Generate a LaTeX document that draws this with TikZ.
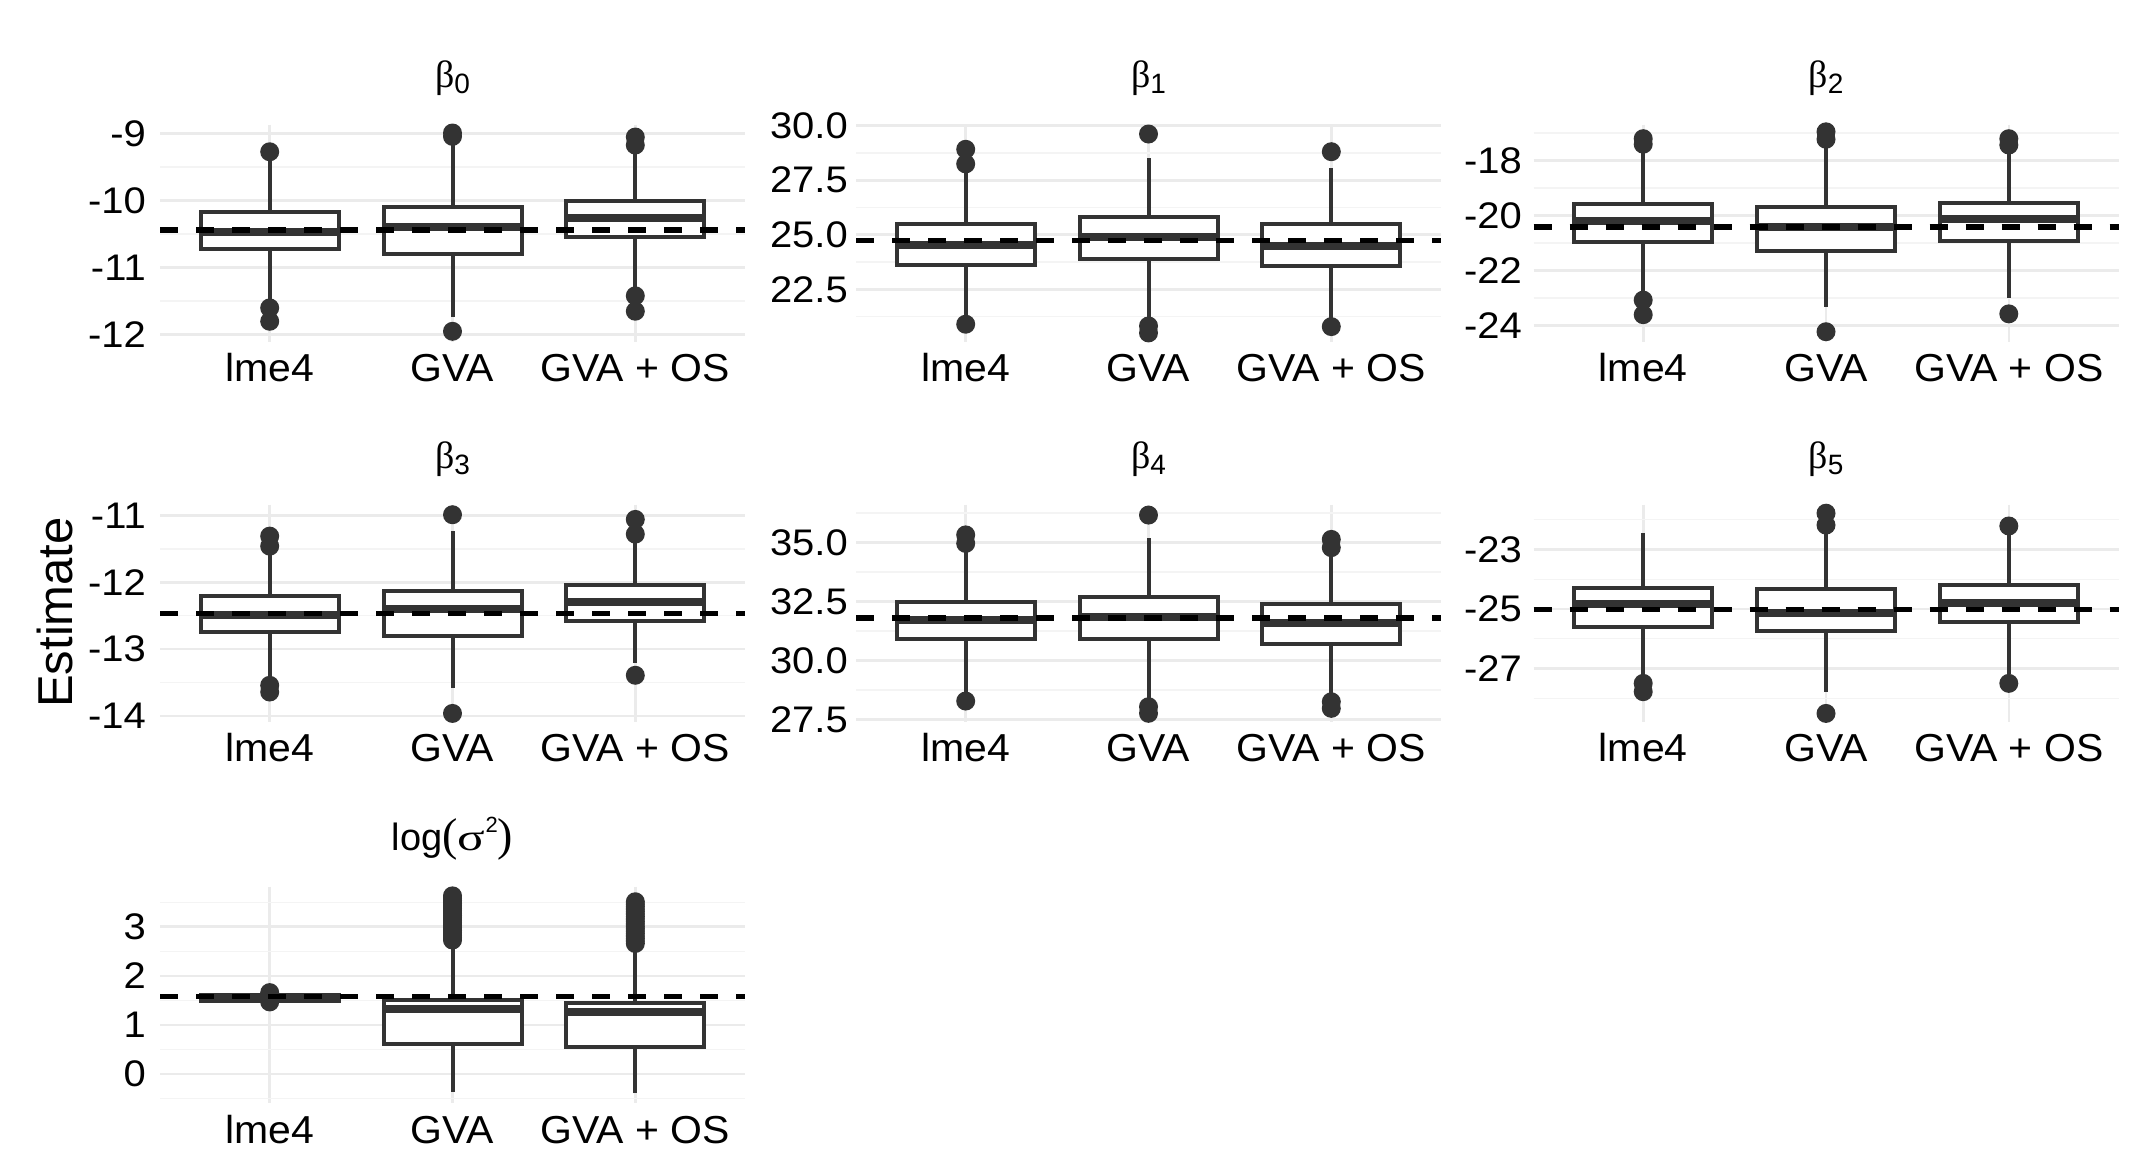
\documentclass[tikz,border=0pt]{standalone}
\usepackage{fontspec}
\setmainfont{Liberation Sans}
\newfontfamily\grk{Liberation Serif}
\definecolor{gridc}{HTML}{EBEBEB}
\definecolor{gridm}{HTML}{F4F4F4}
\definecolor{bcol}{HTML}{333333}
\newcommand\bxp[6]{%
  \draw[whisk] (#1,#2) -- (#1,#3);
  \draw[whisk] (#1,#5) -- (#1,#6);
  \draw[boxs] ({#1-69},#3) rectangle ({#1+69},#5);
  \draw[medl] ({#1-69},#4) -- ({#1+69},#4);
}
\newcommand\outs[2]{\foreach \v in {#2}{\fill[outp] (#1,\v) circle[radius=9.5pt];}}
\newcommand\btitle[1]{{\grk β}\raisebox{-6pt}{\fontsize{28}{28}\selectfont #1}}
\begin{document}
\begin{tikzpicture}[x=1pt,y=1pt,
  gmaj/.style={draw=gridc, line width=2.6pt},
  gmin/.style={draw=gridm, line width=1.4pt},
  whisk/.style={draw=bcol, line width=4pt},
  boxs/.style={draw=bcol, fill=white, line width=4pt},
  medl/.style={draw=bcol, line width=8pt},
  outp/.style={fill=bcol},
  truth/.style={draw=black, line width=5.5pt, dash pattern=on 18pt off 18pt},
  ytick/.style={anchor=east, inner sep=0pt, xscale=1.08, font=\fontsize{37}{37}\selectfont},
  xlab/.style={anchor=base, inner sep=0pt, xscale=1.05, font=\fontsize{39}{39}\selectfont},
  ttl/.style={anchor=base, inner sep=0pt, font=\fontsize{38}{38}\selectfont},
  pmap/.style n args={3}{yshift={(1170-#1-#2*(#3))*1pt}, y=#2pt}
]
\fill[white] (0,0) rectangle (2145,1170);
\useasboundingbox (0,0) rectangle (2145,1170);

% vertical grid lines
\foreach \x in {269.7,452.5,635.3}{
  \draw[gmaj] (\x,1045) -- (\x,828);
  \draw[gmaj] (\x,665) -- (\x,448);
  \draw[gmaj] (\x,283.3) -- (\x,66.7);}
\foreach \x in {965.7,1148.5,1331.3,1643.2,1826,2008.8}{
  \draw[gmaj] (\x,1045) -- (\x,828);
  \draw[gmaj] (\x,665) -- (\x,448);}

% titles
\node[ttl] (t0) at (452.5,1082) {\btitle{0}};
\node[ttl] (t1) at (1148.5,1082) {\btitle{1}};
\node[ttl] (t2) at (1826,1082) {\btitle{2}};
\node[ttl] (t3) at (452.5,701) {\btitle{3}};
\node[ttl] (t4) at (1148.5,701) {\btitle{4}};
\node[ttl] (t5) at (1826,701) {\btitle{5}};
\node[ttl] (t6) at (452.5,319) {log{\grk\fontsize{46}{46}\selectfont (}{\grk\scalebox{1.35}[1]{σ}}\raisebox{18pt}{\fontsize{22}{22}\selectfont 2}{\grk\fontsize{46}{46}\selectfont )}};

% axis title
\node[rotate=90, inner sep=0pt, font=\fontsize{49}{49}\selectfont] (est) at (54.5,557.5) {Estimate};

% x labels
\foreach \xa/\xb/\xc/\yb/\r in {269.7/452.5/635.3/788/a, 965.7/1148.5/1331.3/788/b, 1643.2/1826/2008.8/788/c, 269.7/452.5/635.3/408.5/d, 965.7/1148.5/1331.3/408.5/e, 1643.2/1826/2008.8/408.5/f, 269.7/452.5/635.3/26.5/g}{
  \node[xlab] (x\r1) at (\xa,\yb) {lme4};
  \node[xlab] (x\r2) at (\xb,\yb) {GVA};
  \node[xlab] (x\r3) at (\xc,\yb) {GVA + OS};}

% ---------- panel beta0
\begin{scope}[pmap={200.7}{67}{-10}]
 \foreach \v in {-9.5,-10.5,-11.5} \draw[gmin] (160,\v) -- (745,\v);
 \foreach \v in {-9,-10,-11,-12} \draw[gmaj] (160,\v) -- (745,\v);
 \foreach \v [count=\i] in {-9,-10,-11,-12} \node[ytick] (pa\i) at (146,\v) {\v};
 \bxp{269.7}{-11.5}{-10.726}{-10.472}{-10.164}{-9.35}
 \outs{269.7}{-9.27,-11.6,-11.8}
 \bxp{452.5}{-11.73}{-10.80}{-10.39}{-10.10}{-9.08}
 \outs{452.5}{-8.99,-9.04,-11.95}
 \bxp{635.3}{-11.32}{-10.547}{-10.263}{-10.0}{-9.22}
 \outs{635.3}{-9.05,-9.17,-11.42,-11.65}
 \draw[truth] (160,-10.437) -- (745,-10.437);
\end{scope}

% ---------- panel beta1
\begin{scope}[pmap={234.8}{21.81}{25}]
 \foreach \v in {21.25,23.75,26.25,28.75} \draw[gmin] (856,\v) -- (1441,\v);
 \foreach \v in {22.5,25,27.5,30} \draw[gmaj] (856,\v) -- (1441,\v);
 \foreach \v/\t [count=\i] in {22.5/22.5,25/25.0,27.5/27.5,30/30.0} \node[ytick] (pb\i) at (848,\v) {\t};
 \bxp{965.7}{21.3}{23.62}{24.53}{25.48}{27.9}
 \outs{965.7}{28.92,28.25,20.9}
 \bxp{1148.5}{21.25}{23.88}{24.88}{25.83}{28.54}
 \outs{1148.5}{29.62,20.82,20.5}
 \bxp{1331.3}{21.2}{23.58}{24.49}{25.48}{28.05}
 \outs{1331.3}{28.81,20.79}
 \draw[truth] (856,24.73) -- (1441,24.73);
\end{scope}

% ---------- panel beta2
\begin{scope}[pmap={215.7}{27.5}{-20}]
 \foreach \v in {-17,-19,-21,-23} \draw[gmin] (1533.5,\v) -- (2118.5,\v);
 \foreach \v in {-18,-20,-22,-24} \draw[gmaj] (1533.5,\v) -- (2118.5,\v);
 \foreach \v [count=\i] in {-18,-20,-22,-24} \node[ytick] (pc\i) at (1522,\v) {\v};
 \bxp{1643.2}{-22.9}{-20.96}{-20.18}{-19.57}{-17.6}
 \outs{1643.2}{-17.2,-17.4,-23.07,-23.6}
 \bxp{1826}{-23.31}{-21.28}{-20.4}{-19.69}{-17.4}
 \outs{1826}{-16.95,-17.22,-24.22}
 \bxp{2008.8}{-22.98}{-20.92}{-20.12}{-19.53}{-17.6}
 \outs{2008.8}{-17.2,-17.43,-23.57}
 \draw[truth] (1533.5,-20.42) -- (2118.5,-20.42);
\end{scope}

% ---------- panel beta3
\begin{scope}[pmap={582.3}{66.9}{-12}]
 \foreach \v in {-11.5,-12.5,-13.5} \draw[gmin] (160,\v) -- (745,\v);
 \foreach \v in {-11,-12,-13,-14} \draw[gmaj] (160,\v) -- (745,\v);
 \foreach \v [count=\i] in {-11,-12,-13,-14} \node[ytick] (pd\i) at (146,\v) {\v};
 \bxp{269.7}{-13.4}{-12.743}{-12.489}{-12.205}{-11.58}
 \outs{269.7}{-11.31,-11.46,-13.54,-13.64}
 \bxp{452.5}{-13.575}{-12.80}{-12.40}{-12.125}{-11.24}
 \outs{452.5}{-10.99,-13.96}
 \bxp{635.3}{-13.2}{-12.58}{-12.30}{-12.04}{-11.4}
 \outs{635.3}{-11.06,-11.28,-13.39}
 \draw[truth] (160,-12.464) -- (745,-12.464);
\end{scope}

% ---------- panel beta4
\begin{scope}[pmap={601.7}{23.6}{32.5}]
 \foreach \v in {28.75,31.25,33.75,36.25} \draw[gmin] (856,\v) -- (1441,\v);
 \foreach \v in {27.5,30,32.5,35} \draw[gmaj] (856,\v) -- (1441,\v);
 \foreach \v/\t [count=\i] in {27.5/27.5,30/30.0,32.5/32.5,35/35.0} \node[ytick] (pe\i) at (848,\v) {\t};
 \bxp{965.7}{28.6}{30.91}{31.72}{32.47}{34.7}
 \outs{965.7}{35.33,34.97,28.29}
 \bxp{1148.5}{28.3}{30.92}{31.86}{32.71}{35.19}
 \outs{1148.5}{36.17,28.05,27.77}
 \bxp{1331.3}{28.5}{30.71}{31.58}{32.39}{34.5}
 \outs{1331.3}{35.14,34.79,28.26,27.98}
 \draw[truth] (856,31.80) -- (1441,31.80);
\end{scope}

% ---------- panel beta5
\begin{scope}[pmap={609}{29.75}{-25}]
 \foreach \v in {-22,-24,-26,-28} \draw[gmin] (1533.5,\v) -- (2118.5,\v);
 \foreach \v in {-23,-25,-27} \draw[gmaj] (1533.5,\v) -- (2118.5,\v);
 \foreach \v [count=\i] in {-23,-25,-27} \node[ytick] (pf\i) at (1522,\v) {\v};
 \bxp{1643.2}{-27.3}{-25.59}{-24.83}{-24.30}{-22.44}
 \outs{1643.2}{-27.5,-27.78}
 \bxp{1826}{-27.78}{-25.73}{-25.12}{-24.33}{-22.4}
 \outs{1826}{-21.78,-22.18,-28.51}
 \bxp{2008.8}{-27.2}{-25.45}{-24.81}{-24.19}{-22.5}
 \outs{2008.8}{-22.21,-27.5}
 \draw[truth] (1533.5,-25.01) -- (2118.5,-25.01);
\end{scope}

% ---------- panel log sigma^2
\begin{scope}[pmap={1025}{49.1}{1}]
 \foreach \v in {-0.5,0.5,1.5,2.5,3.5} \draw[gmin] (160,\v) -- (745,\v);
 \foreach \v in {0,1,2,3} \draw[gmaj] (160,\v) -- (745,\v);
 \foreach \v [count=\i] in {0,1,2,3} \node[ytick] (pg\i) at (146,\v) {\v};
 \bxp{269.7}{1.47}{1.494}{1.555}{1.617}{1.64}
 \outs{269.7}{1.47,1.53,1.60,1.66}
 \bxp{452.5}{-0.36}{0.61}{1.316}{1.51}{2.62}
 \outs{452.5}{2.73,2.78,...,3.68}
 \bxp{635.3}{-0.39}{0.56}{1.27}{1.44}{2.55}
 \outs{635.3}{2.66,2.71,...,3.55}
 \draw[truth] (160,1.577) -- (745,1.577);
\end{scope}
\end{tikzpicture}
\end{document}
